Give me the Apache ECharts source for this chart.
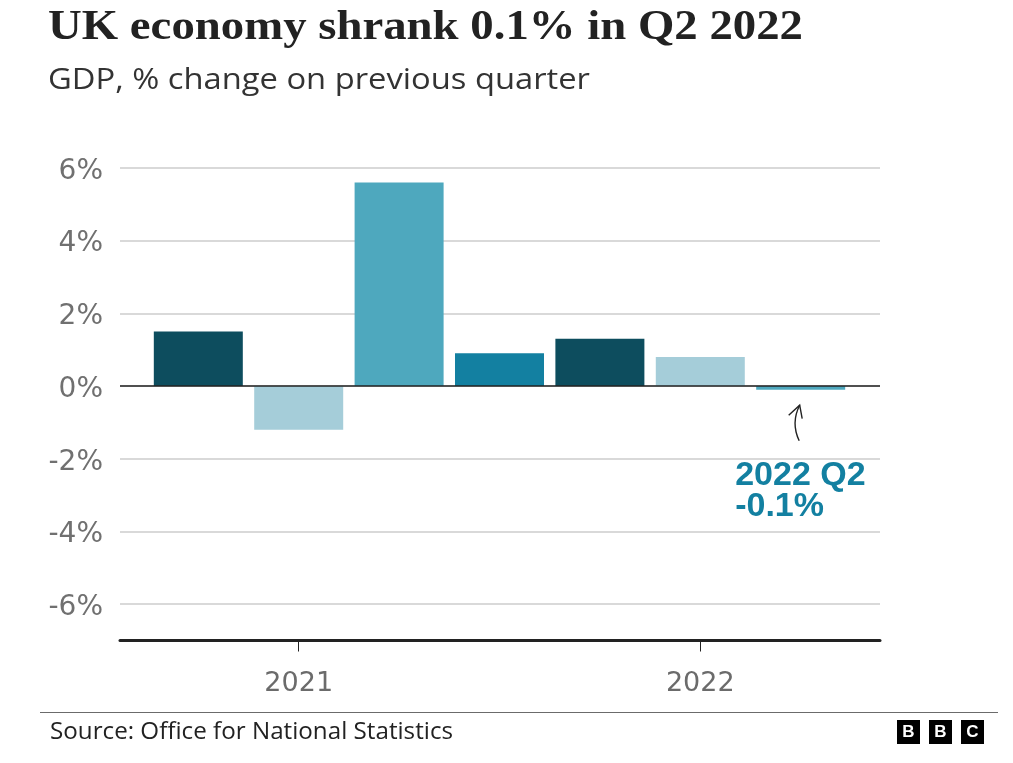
<!DOCTYPE html>
<html>
<head>
<meta charset="utf-8">
<script src="https://cdn.jsdelivr.net/npm/echarts@6/dist/echarts.min.js"></script>
<style>
html,body{margin:0;padding:0;background:#fff;}
#chart{width:1013px;height:763px;}
</style>
</head>
<body>
<div id="chart"></div>
<script>
// ---- data ----
const quarters = ['2020 Q4', '2021 Q1', '2021 Q2', '2021 Q3', '2021 Q4', '2022 Q1', '2022 Q2'];
const gdpChange = [1.5, -1.2, 5.6, 0.9, 1.3, 0.8, -0.1];
const yearTickIndex = [1, 5];
const yearTickLabels = ['2021', '2022'];
const yTickValues = [-6, -4, -2, 0, 2, 4, 6];
const titleText = 'UK economy shrank 0.1% in Q2 2022';
const subtitleText = 'GDP, % change on previous quarter';
const sourceText = 'Source: Office for National Statistics';
const annotationLines = ['2022 Q2', '-0.1%'];

// ---- styles ----
const quarterColors = { Q4: '#0d4d5e', Q1: '#a5cdd9', Q2: '#4ea8be', Q3: '#1380a1' };
const accent = '#1380a1';

const chart = echarts.init(document.getElementById('chart'), null, { renderer: 'canvas' });

function fitScale(text, font, target) {
  const c = document.createElement('canvas').getContext('2d');
  c.font = font;
  return target / c.measureText(text).width;
}

const titleFont = 'bold 42px "Liberation Serif"';
const subFont = '30px "Open Sans"';
const srcFont = '24px "Open Sans"';

const barData = gdpChange.map((v, i) => ({
  value: [i, v],
  itemStyle: { color: quarterColors[quarters[i].split(' ')[1]] }
}));

const option = {
  backgroundColor: '#ffffff',
  animation: false,
  grid: { left: 120, right: 133, top: 168, bottom: 122.5, containLabel: false },
  xAxis: {
    type: 'value',
    min: -0.78,
    max: 6.79,
    splitLine: { show: false },
    axisLine: { show: true, onZero: false, lineStyle: { color: '#222222', width: 3 } },
    axisTick: { show: true, customValues: yearTickIndex, length: 11, lineStyle: { color: '#222222', width: 1 } },
    axisLabel: {
      show: true,
      customValues: yearTickIndex,
      formatter: v => yearTickLabels[yearTickIndex.indexOf(Math.round(v))] || '',
      color: '#6b6b6b',
      fontFamily: 'DejaVu Sans',
      fontSize: 27,
      margin: 30
    }
  },
  yAxis: {
    type: 'value',
    min: -7,
    max: 6,
    interval: 1,
    axisLine: { show: false },
    axisTick: { show: false },
    axisLabel: {
      formatter: v => (yTickValues.indexOf(v) >= 0 ? '{v|' + v + '%}' : ''),
      margin: 17,
      rich: {
        v: { color: '#707070', fontFamily: 'DejaVu Sans', fontSize: 28, padding: [7, 0, 0, 0] }
      }
    },
    splitLine: { show: true, lineStyle: { color: ['rgba(0,0,0,0)', '#cccccc'], width: 1.5 } }
  },
  series: [{
    type: 'bar',
    data: barData,
    barWidth: 89,
    markLine: {
      silent: true,
      symbol: 'none',
      label: { show: false },
      lineStyle: { color: '#222222', width: 1.5, type: 'solid' },
      data: [{ yAxis: 0 }]
    }
  }]
};
chart.setOption(option);

// annotation anchored on the last bar
const last = gdpChange.length - 1;
const p = chart.convertToPixel({ gridIndex: 0 }, [last, gdpChange[last]]);
const ax = p[0], ay = p[1];

chart.setOption({
  graphic: [
    {
      type: 'text', x: 48, y: 28, scaleX: fitScale(titleText, titleFont, 755),
      style: { text: titleText, font: titleFont, fill: '#222222', textVerticalAlign: 'middle' }
    },
    {
      type: 'text', x: 48, y: 80, scaleX: fitScale(subtitleText, subFont, 542),
      style: { text: subtitleText, font: subFont, fill: '#333333', textVerticalAlign: 'middle' }
    },
    {
      type: 'line', shape: { x1: 40, y1: 712.5, x2: 998, y2: 712.5 },
      style: { stroke: '#6b6b6b', lineWidth: 1.2 }
    },
    {
      type: 'text', x: 50, y: 732, scaleX: fitScale(sourceText, srcFont, 403),
      style: { text: sourceText, font: srcFont, fill: '#222222', textVerticalAlign: 'middle' }
    },
    ...['B', 'B', 'C'].map((ch, k) => ({
      type: 'group', x: 897 + k * 32, y: 720,
      children: [
        { type: 'rect', shape: { x: 0, y: 0, width: 23, height: 24 }, style: { fill: '#000000' } },
        { type: 'text', x: 11.5, y: 12.5, style: { text: ch, font: 'bold 17px "Liberation Sans"', fill: '#ffffff', textAlign: 'center', textVerticalAlign: 'middle' } }
      ]
    })),
    {
      type: 'bezierCurve',
      shape: { x1: ax - 1.5, y1: ay + 51, cpx1: ax - 10, cpy1: ay + 33, x2: ax - 1, y2: ay + 15.5 },
      style: { stroke: '#222222', fill: null, lineWidth: 1.4 }
    },
    {
      type: 'polyline',
      shape: { points: [[ax - 12, ay + 25.5], [ax - 1, ay + 15.5], [ax + 1.5, ay + 29]] },
      style: { stroke: '#222222', fill: null, lineWidth: 1.4 }
    },
    {
      type: 'text', x: ax - 65.5, y: ay + 86,
      style: { text: annotationLines[0], font: 'bold 34px "Liberation Sans"', fill: accent, textVerticalAlign: 'middle' }
    },
    {
      type: 'text', x: ax - 65.5, y: ay + 117,
      style: { text: annotationLines[1], font: 'bold 34px "Liberation Sans"', fill: accent, textVerticalAlign: 'middle' }
    }
  ]
});
</script>
</body>
</html>
